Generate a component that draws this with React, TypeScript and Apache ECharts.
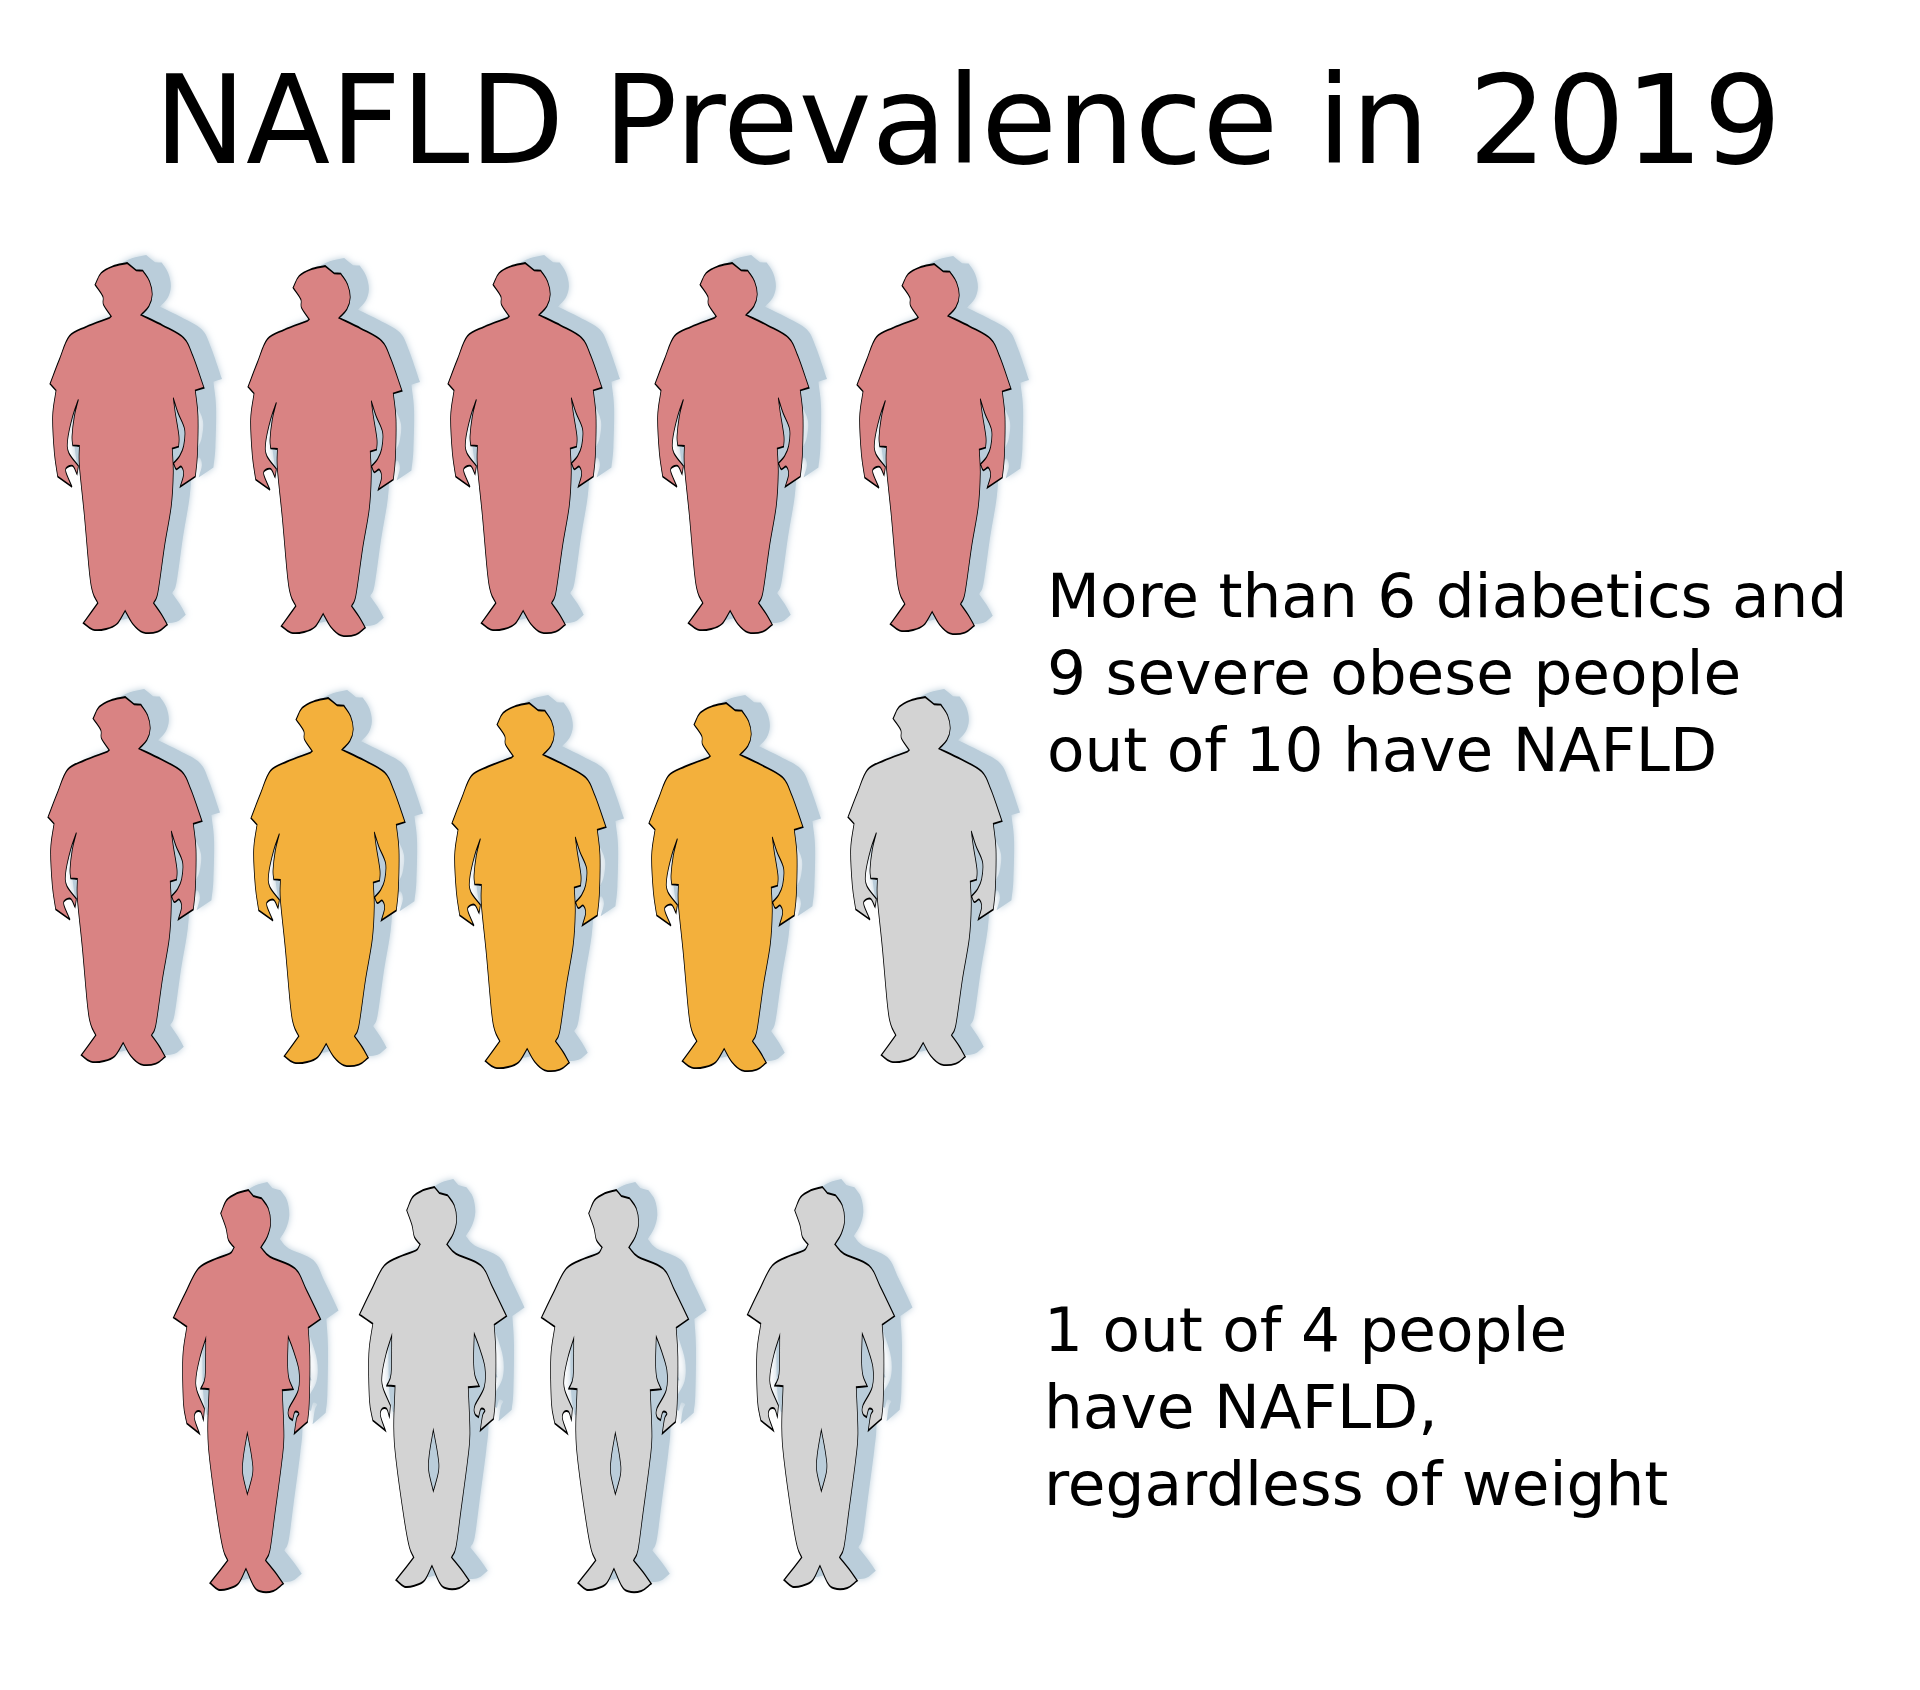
import React, { useEffect, useRef } from "react";
import * as echarts from "echarts";

const titleText = "NAFLD Prevalence in 2019";
const obeseNote = ["More than 6 diabetics and", "9 severe obese people", "out of 10 have NAFLD"];
const generalNote = ["1 out of 4 people", "have NAFLD,", "regardless of weight"];

// who has what, read left to right
const diabeticRow = ["nafld", "nafld", "nafld", "nafld", "nafld"];
const severeRow = ["nafld", "obese", "obese", "obese", "healthy"];
const generalRow = ["nafld", "healthy", "healthy", "healthy"];

const colours: Record<string, string> = { nafld: "#d98383", obese: "#f3b03c", healthy: "#d3d3d3" };

const diabeticSlots = [[127, 448], [325, 451], [525, 448], [732, 448], [934, 449]];
const severeSlots = [[125, 881], [328, 882], [529, 887], [726, 887], [925, 881]];
const generalSlots = [[247, 1391], [433, 1388], [615, 1391], [821, 1388]];

type P = number[];
// third number marks a sharp corner
const obeseOutline: P[] = [
  [293,70,1],[320,92,1],[340,93,1],[360,125],[368,165],[358,200],[335,226,1],[400,258],[462,295],[490,350],[523,445,1],[497,453,1],
  [505,530],[503,650],[497,712,1],[452,742,1],[462,705],[455,682],[440,690],[432,672,1],[450,650],[462,620],[465,570],[445,520],[431,475,1],
  [437,520],[448,590],[447,622,1],[428,628,1],[431,700],[425,800],[405,920],[385,1060],[372,1092,1],[395,1125],[413,1157,1],[385,1178],[340,1180],
  [310,1155],[287,1115,1],[262,1155],[230,1170],[190,1172],[162,1152,1],[185,1120],[205,1092,1],[190,1060],[180,1000],[165,830],[150,680],[150,620,1],
  [130,618,1],[128,590],[135,530],[147,480,1],[130,530],[115,600],[118,640],[147,680,1],[143,705,1],[130,680],[112,685],[110,700],[128,743,1],
  [85,712,1],[75,640],[70,530],[80,453,1],[62,433,1],[90,360],[120,290],[170,262],[240,235,1],[245,230,1],[222,195],[220,170],[197,135,1],[215,100],[250,80],
];
const leanOutline: P[] = [
  [265,60,1],[280,78,1],[305,85,1],[325,115],[332,160],[322,200],[303,232,1],[330,260],[405,295],[440,360],[482,447,1],[445,473,1],
  [450,560],[448,700],[443,755,1],[403,790,1],[410,745],[417,730],[405,725],[398,750,1],[387,740],[387,715],[415,660],[417,600],[400,540],[385,500,1],
  [383,580],[387,625],[400,657,1],[367,660,1],[372,800],[365,880],[345,1030],[330,1140],[317,1170,1],[345,1205],[370,1240,1],[340,1262],[300,1263],
  [280,1245],[258,1195,1],[235,1240],[205,1255],[175,1258],[150,1238,1],[180,1200],[203,1170,1],[190,1140],[175,1060],[150,880],[143,780],[147,657,1],
  [122,655,1],[135,620],[137,505,1],[120,560],[108,620],[110,660],[133,715,1],[130,750,1],[122,725],[108,725],[103,745],[118,790,1],
  [80,760,1],[70,700],[68,560],[80,470,1],[40,442,1],[75,370],[115,295],[170,265],[210,250],[222,232,1],[205,210],[198,175],[182,130,1],[200,90],[230,70],
];
const leanGap: P[] = [[262,788,1],[250,860],[248,910],[262,972,1],[278,910],[275,860]];

// a curve through every traced point, sharp at the marked corners
function outlineToPath(pts: P[]): string {
  const n = pts.length;
  const at = (i: number) => pts[(i + n) % n];
  let d = `M${pts[0][0]} ${pts[0][1]}`;
  for (let i = 0; i < n; i++) {
    const a = at(i), b = at(i + 1), before = at(i - 1), after = at(i + 2);
    const c1 = a[2]
      ? [a[0] + (b[0] - a[0]) / 3, a[1] + (b[1] - a[1]) / 3]
      : [a[0] + (b[0] - before[0]) / 6, a[1] + (b[1] - before[1]) / 6];
    const c2 = b[2]
      ? [b[0] - (b[0] - a[0]) / 3, b[1] - (b[1] - a[1]) / 3]
      : [b[0] - (after[0] - a[0]) / 6, b[1] - (after[1] - a[1]) / 6];
    d += `C${c1[0]} ${c1[1]} ${c2[0]} ${c2[1]} ${b[0]} ${b[1]}`;
  }
  return d + "Z";
}

const obesePath = "path://" + outlineToPath(obeseOutline);
const leanPath = "path://" + outlineToPath(leanOutline) + outlineToPath(leanGap);

const toData = (row: string[], slots: number[][]) =>
  row.map((status, i) => ({ value: slots[i], itemStyle: { color: colours[status], opacity: 1 } }));

const shadowFill = "#bacdda";
const figureStyle = { opacity: 1, borderColor: "#000", borderWidth: 1.2 };
const softShadow = { color: shadowFill, opacity: 1, shadowColor: shadowFill, shadowBlur: 7, shadowOffsetX: 0, shadowOffsetY: 0 };

const shadowOf = (symbol: string, symbolSize: number[], slots: number[][]) => ({
  type: "scatter", silent: true, symbol, symbolSize, symbolOffset: [19, -9], z: 1, itemStyle: softShadow, data: slots,
});
const figuresOf = (symbol: string, symbolSize: number[], row: string[], slots: number[][]) => ({
  type: "scatter", silent: true, symbol, symbolSize, z: 2, itemStyle: figureStyle, data: toData(row, slots),
});

export default function App() {
  const ref = useRef<HTMLDivElement>(null);
  useEffect(() => {
    document.body.style.margin = "0";
    const chart = echarts.init(ref.current!, undefined, { renderer: "svg" });
    const font = "DejaVu Sans";
    chart.setOption({
      animation: false,
      backgroundColor: "#fff",
      title: {
        text: titleText,
        left: 149,
        top: 54,
        textStyle: { fontFamily: font, fontSize: 123, fontWeight: "normal", color: "#000" },
      },
      grid: { left: 0, right: 0, top: 0, bottom: 0 },
      xAxis: { type: "value", min: 0, max: 1920, show: false },
      yAxis: { type: "value", min: 0, max: 1690, inverse: true, show: false },
      series: [
        shadowOf(obesePath, [152, 368], diabeticSlots),
        shadowOf(obesePath, [152, 366], severeSlots),
        shadowOf(leanPath, [145, 400], generalSlots),
        figuresOf(obesePath, [154, 370], diabeticRow, diabeticSlots),
        figuresOf(obesePath, [154, 368], severeRow, severeSlots),
        figuresOf(leanPath, [147, 402], generalRow, generalSlots),
      ],
      graphic: [
        { type: "text", x: 1047, y: 672, style: { text: obeseNote.join("\n"), fontFamily: font, fontSize: 61.3, lineHeight: 77, fill: "#000", verticalAlign: "middle" } },
        { type: "text", x: 1044, y: 1406, style: { text: generalNote.join("\n"), fontFamily: font, fontSize: 61.3, lineHeight: 77, fill: "#000", verticalAlign: "middle" } },
      ],
    });
    return () => chart.dispose();
  }, []);
  return <div ref={ref} style={{ width: 1920, height: 1690 }} />;
}
